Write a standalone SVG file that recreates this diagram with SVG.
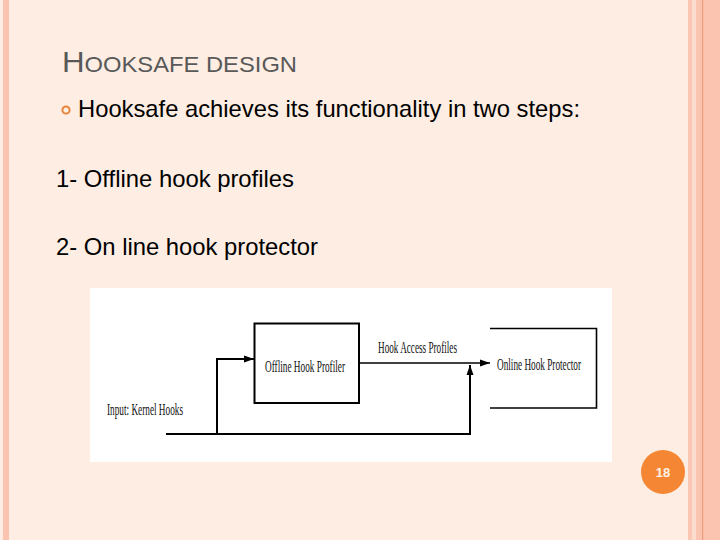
<svg xmlns="http://www.w3.org/2000/svg" width="720" height="540" viewBox="0 0 720 540">
<defs>
<style>
.sans{font-family:"Liberation Sans",Arial,sans-serif;}
.serif{font-family:"Liberation Serif","Times New Roman",serif;fill:#111;font-size:16px;}
.ln{stroke:#000;fill:none;}
</style>
<marker id="ah" viewBox="0 0 10 10" refX="10" refY="5" markerWidth="10" markerHeight="10" markerUnits="userSpaceOnUse" orient="auto">
<path d="M0,1.5 L10,5 L0,8.5 Z" fill="#000"/>
</marker>
</defs>
<rect x="0" y="0" width="720" height="540" fill="#FDEDE3"/>
<rect x="3" y="0" width="6" height="540" fill="#FBC4B0"/>
<rect x="688" y="0" width="4" height="540" fill="#FBC7B5"/>
<rect x="692" y="0" width="4" height="540" fill="#FDDCD0"/>
<rect x="696" y="0" width="24" height="540" fill="#FBC4B0"/>
<rect x="702" y="0" width="1.2" height="540" fill="#EE9C7C"/>
<text class="sans" x="62" y="72" fill="#595959" font-size="29" textLength="235" lengthAdjust="spacingAndGlyphs">H<tspan font-size="22">OOKSAFE DESIGN</tspan></text>
<circle cx="66" cy="110" r="3.6" fill="none" stroke="#E8843C" stroke-width="2"/>
<text class="sans" x="78" y="117" font-size="24" fill="#000" textLength="502" lengthAdjust="spacingAndGlyphs">Hooksafe achieves its functionality in two steps:</text>
<text class="sans" x="56" y="187" font-size="24" fill="#000" textLength="238" lengthAdjust="spacingAndGlyphs">1- Offline hook profiles</text>
<text class="sans" x="56" y="255" font-size="24" fill="#000" textLength="262" lengthAdjust="spacingAndGlyphs">2- On line hook protector</text>
<rect x="90" y="288" width="522" height="174" fill="#FFFFFF"/>
<g id="offline">
<rect x="254.5" y="323.5" width="104.5" height="79.5" fill="none" stroke="#000" stroke-width="2"/>
<text class="serif" x="265" y="372" textLength="80" lengthAdjust="spacingAndGlyphs">Offline Hook Profiler</text>
</g>
<g id="online">
<path class="ln" d="M490,328.5 H596.5 V408 H490" stroke-width="1.6"/>
<text class="serif" x="497" y="370" textLength="84" lengthAdjust="spacingAndGlyphs">Online Hook Protector</text>
</g>
<g id="input">
<text class="serif" x="107" y="415" textLength="76" lengthAdjust="spacingAndGlyphs">Input: Kernel Hooks</text>
</g>
<g id="connectors">
<path class="ln" d="M166,434 H470 V365" stroke-width="2" marker-end="url(#ah)"/>
<path class="ln" d="M217,434 V359 H254" stroke-width="2" marker-end="url(#ah)"/>
<path class="ln" d="M359,363 H490" stroke-width="1.4" marker-end="url(#ah)"/>
<text class="serif" x="378" y="353" textLength="79" lengthAdjust="spacingAndGlyphs">Hook Access Profiles</text>
</g>
<circle cx="663" cy="472" r="22" fill="#F58634"/>
<text class="sans" x="663" y="477" font-size="13" font-weight="bold" fill="#FFF3E6" text-anchor="middle">18</text>
</svg>
